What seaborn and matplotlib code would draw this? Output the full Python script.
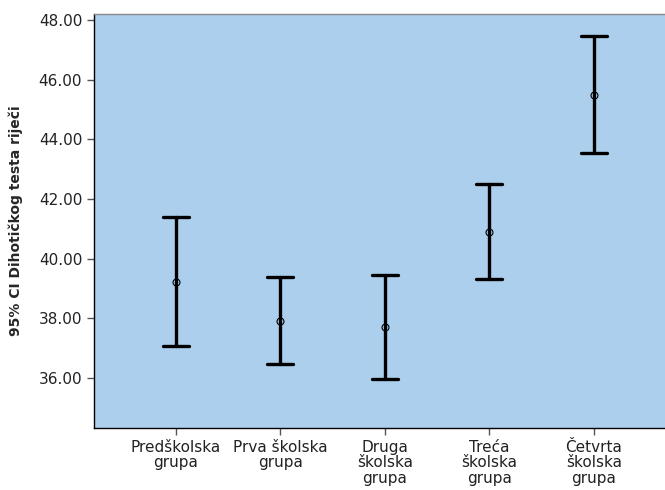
import pandas as pd
import seaborn as sns
import matplotlib.pyplot as plt
from matplotlib.ticker import FormatStrFormatter

# Podaci očitani sa slike (95% CI)
grupe = ["Predškolska\ngrupa", "Prva školska\ngrupa", "Druga\nškolska\ngrupa",
         "Treća\nškolska\ngrupa", "Četvrta\nškolska\ngrupa"]
prosjek = [39.23, 37.92, 37.71, 40.90, 45.50]
donja = [37.06, 36.45, 35.96, 39.32, 43.55]
gornja = [41.41, 39.39, 39.44, 42.50, 47.45]

# Long format: donja granica, prosjek, gornja granica za svaku grupu
redovi = []
for g, lo, m, hi in zip(grupe, donja, prosjek, gornja):
    for v in (lo, m, hi):
        redovi.append({"grupa": g, "vrijednost": v})
df = pd.DataFrame(redovi)

sns.set_style("white")
plt.rcParams['font.family'] = ['DejaVu Sans']

fig = plt.figure(figsize=(6.65, 4.9), dpi=100)
ax = fig.add_axes([0.1414, 0.1265, 0.8586, 0.845])
ax.set_facecolor('#adcfee')

sns.pointplot(data=df, x="grupa", y="vrijednost", order=grupe,
              estimator="median", errorbar=lambda v: (v.min(), v.max()),
              color="black", linestyles="none", markers="o",
              markerfacecolor="none", markersize=5, markeredgewidth=0.8,
              capsize=0.25, err_kws={"linewidth": 2.4}, ax=ax)

ax.set_xlim(-0.78, 4.68)
ax.set_ylim(34.32, 48.2)
ax.set_yticks([36, 38, 40, 42, 44, 46, 48])
ax.yaxis.set_major_formatter(FormatStrFormatter('%.2f'))

ax.set_xlabel("")
ax.set_ylabel("95% CI Dihotičkog testa riječi", fontsize=10, fontweight='bold')
ax.yaxis.set_label_coords(-0.125, 0.5)

for s in ['left', 'bottom']:
    ax.spines[s].set_color('black')
    ax.spines[s].set_linewidth(1.0)
ax.spines['top'].set_color('#888888')
ax.spines['top'].set_linewidth(1.0)
ax.spines['right'].set_visible(False)

ax.tick_params(axis='both', direction='out', length=5, width=1, color='#555555',
               labelsize=11, labelcolor='#222222', left=True, bottom=True)
for t in ax.get_xticklabels():
    t.set_linespacing(1.05)

fig.savefig("out.png", dpi=100)
